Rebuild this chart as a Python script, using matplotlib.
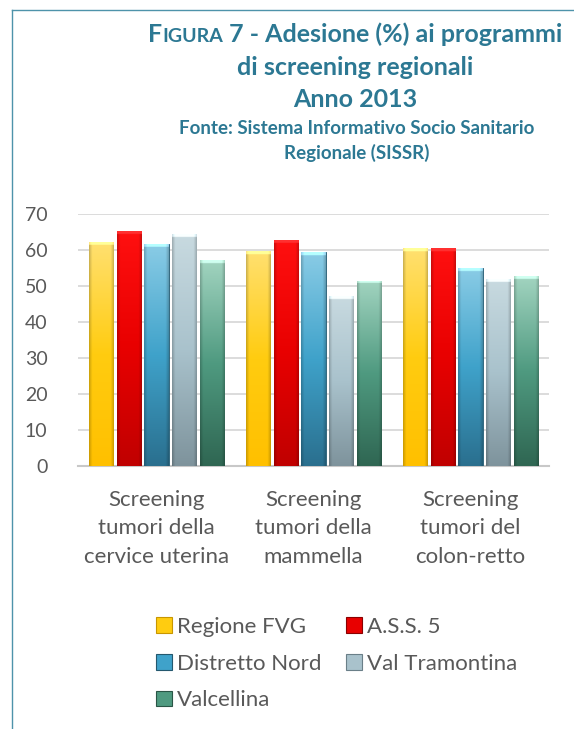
import numpy as np
import matplotlib
matplotlib.use("Agg")
import matplotlib.pyplot as plt
from matplotlib.colors import to_rgb
from matplotlib.patches import Patch
import matplotlib.lines as mlines

plt.rcParams['font.family'] = ['Lato', 'DejaVu Sans']

categories = ["Screening\ntumori della\ncervice uterina",
              "Screening\ntumori della\nmammella",
              "Screening\ntumori del\ncolon-retto"]
series_names = ["Regione FVG", "A.S.S. 5", "Distretto Nord", "Val Tramontina", "Valcellina"]
regione_fvg = [62.1, 59.7, 60.5]
ass5 = [65.2, 62.7, 60.5]
distretto_nord = [61.6, 59.4, 54.9]
val_tramontina = [64.4, 47.1, 51.9]
valcellina = [57.1, 51.4, 52.7]
series_values = [regione_fvg, ass5, distretto_nord, val_tramontina, valcellina]
yticks = [0, 10, 20, 30, 40, 50, 60, 70]

# (top colour, middle colour, bottom colour, edge)
palettes = [
    ("#FFE070", "#FFCC10", "#FFC000", "#C89600"),
    ("#FF1010", "#E80000", "#C00000", "#8A0000"),
    ("#8ACCE6", "#3FA2CA", "#2A6F8E", "#24586E"),
    ("#C8DAE0", "#A9C2CC", "#7E939C", "#6A7F88"),
    ("#A2D4C0", "#4F9A80", "#2F6652", "#2A5546"),
]

W, H = 574, 729
fig = plt.figure(figsize=(W / 100, H / 100), dpi=100)
fig.patch.set_facecolor("white")

border = "#4E93AA"
fig.add_artist(mlines.Line2D([12/W, 12/W], [0, 1 - 10/H], color=border, lw=1.0))
fig.add_artist(mlines.Line2D([12/W, 1], [1 - 10/H, 1 - 10/H], color=border, lw=1.0))

ax = fig.add_axes([78/W, 1 - 466/H, 471/W, 252/H])

x = np.arange(len(categories))
width = 0.153
step = 0.178
offsets = (np.arange(5) - 2) * step

def make_grad(pal, h):
    top, mid, bot, _ = [np.array(to_rgb(c)) for c in pal]
    n = 400
    t = np.linspace(0, 1, n)[:, None]
    col = np.where(t < 0.5, top + (mid - top) * (t / 0.5), mid + (bot - mid) * ((t - 0.5) / 0.5))
    col = np.repeat(col[:, None, :], 40, axis=1)
    xs = np.linspace(-1, 1, 40)
    shade = 1 - 0.2 * np.clip((np.abs(xs) - 0.75) / 0.25, 0, 1)
    col = col * shade[None, :, None]
    px = h * 3.6
    cap = max(1, int(round(3.0 / px * n)))
    col[:cap] = np.clip(col[:cap] * 1.1 + 0.12, 0, 1)
    return np.clip(col, 0, 1)

for i, (vals, pal) in enumerate(zip(series_values, palettes)):
    bars = ax.bar(x + offsets[i], vals, width, color=pal[1], edgecolor=pal[3],
                  linewidth=0.6, zorder=3, label=series_names[i])
    for b in bars:
        x0, y0 = b.get_x(), b.get_y()
        w, h = b.get_width(), b.get_height()
        im = ax.imshow(make_grad(pal, h), extent=[x0, x0 + w, y0, y0 + h], aspect='auto',
                       zorder=3.5, origin='upper', interpolation='bilinear')
        im.set_clip_path(b)

ax.set_yticks(yticks)
ax.yaxis.grid(True, color="#D9D9D9", lw=1.3, zorder=0)
ax.set_axisbelow(True)
for s in ["left", "right", "top"]:
    ax.spines[s].set_visible(False)
ax.spines["bottom"].set_color("#C8C8C8")
ax.spines["bottom"].set_linewidth(1.5)
ax.tick_params(axis="both", length=0, colors="#595959")
ax.tick_params(axis="y", pad=22, labelsize=14)
ax.set_xticks(x)
ax.set_xticklabels(categories, fontsize=16, color="#595959", linespacing=1.55)
ax.tick_params(axis="x", pad=17)
ax.set_xlim(-0.5, 2.5)
ax.set_ylim(0, 70)

title_color = "#2C7893"

def centered_pieces(pieces, cx, cy):
    renderer = fig.canvas.get_renderer()
    texts = []
    for s, fs in pieces:
        t = fig.text(0, 1 - cy / H, s, ha="left", va="baseline", fontsize=fs,
                     fontweight="bold", color=title_color)
        texts.append(t)
    widths = [t.get_window_extent(renderer).width for t in texts]
    total = sum(widths)
    xpos = cx - total / 2
    for t, wdt in zip(texts, widths):
        t.set_x(xpos / W)
        xpos += wdt

centered_pieces([("F", 18), ("IGURA", 14), (" 7 - Adesione (%) ai programmi", 18)], 355, 42)
fig.text(355/W, 1 - 75/H, "di screening regionali", ha="center", va="baseline",
         fontsize=18, fontweight="bold", color=title_color)
fig.text(355/W, 1 - 107/H, "Anno 2013", ha="center", va="baseline",
         fontsize=18, fontweight="bold", color=title_color)
fig.text(357/W, 1 - 134/H, "Fonte: Sistema Informativo Socio Sanitario", ha="center", va="baseline",
         fontsize=13.5, fontweight="bold", color=title_color)
fig.text(357/W, 1 - 159/H, "Regionale (SISSR)", ha="center", va="baseline",
         fontsize=13.5, fontweight="bold", color=title_color)

order = [0, 2, 4, 1, 3]
handles = [Patch(facecolor=palettes[k][1], edgecolor=palettes[k][3], linewidth=0.8) for k in order]
labels = [series_names[k] for k in order]
fig.legend(handles, labels, ncol=2, loc="upper left",
           bbox_to_anchor=(136/W, 1 - 597/H), frameon=False,
           fontsize=16, handlelength=0.7, handleheight=0.7,
           handletextpad=0.25, columnspacing=1.1, labelspacing=0.75,
           labelcolor="#595959")

fig.savefig("out.png", dpi=100)
